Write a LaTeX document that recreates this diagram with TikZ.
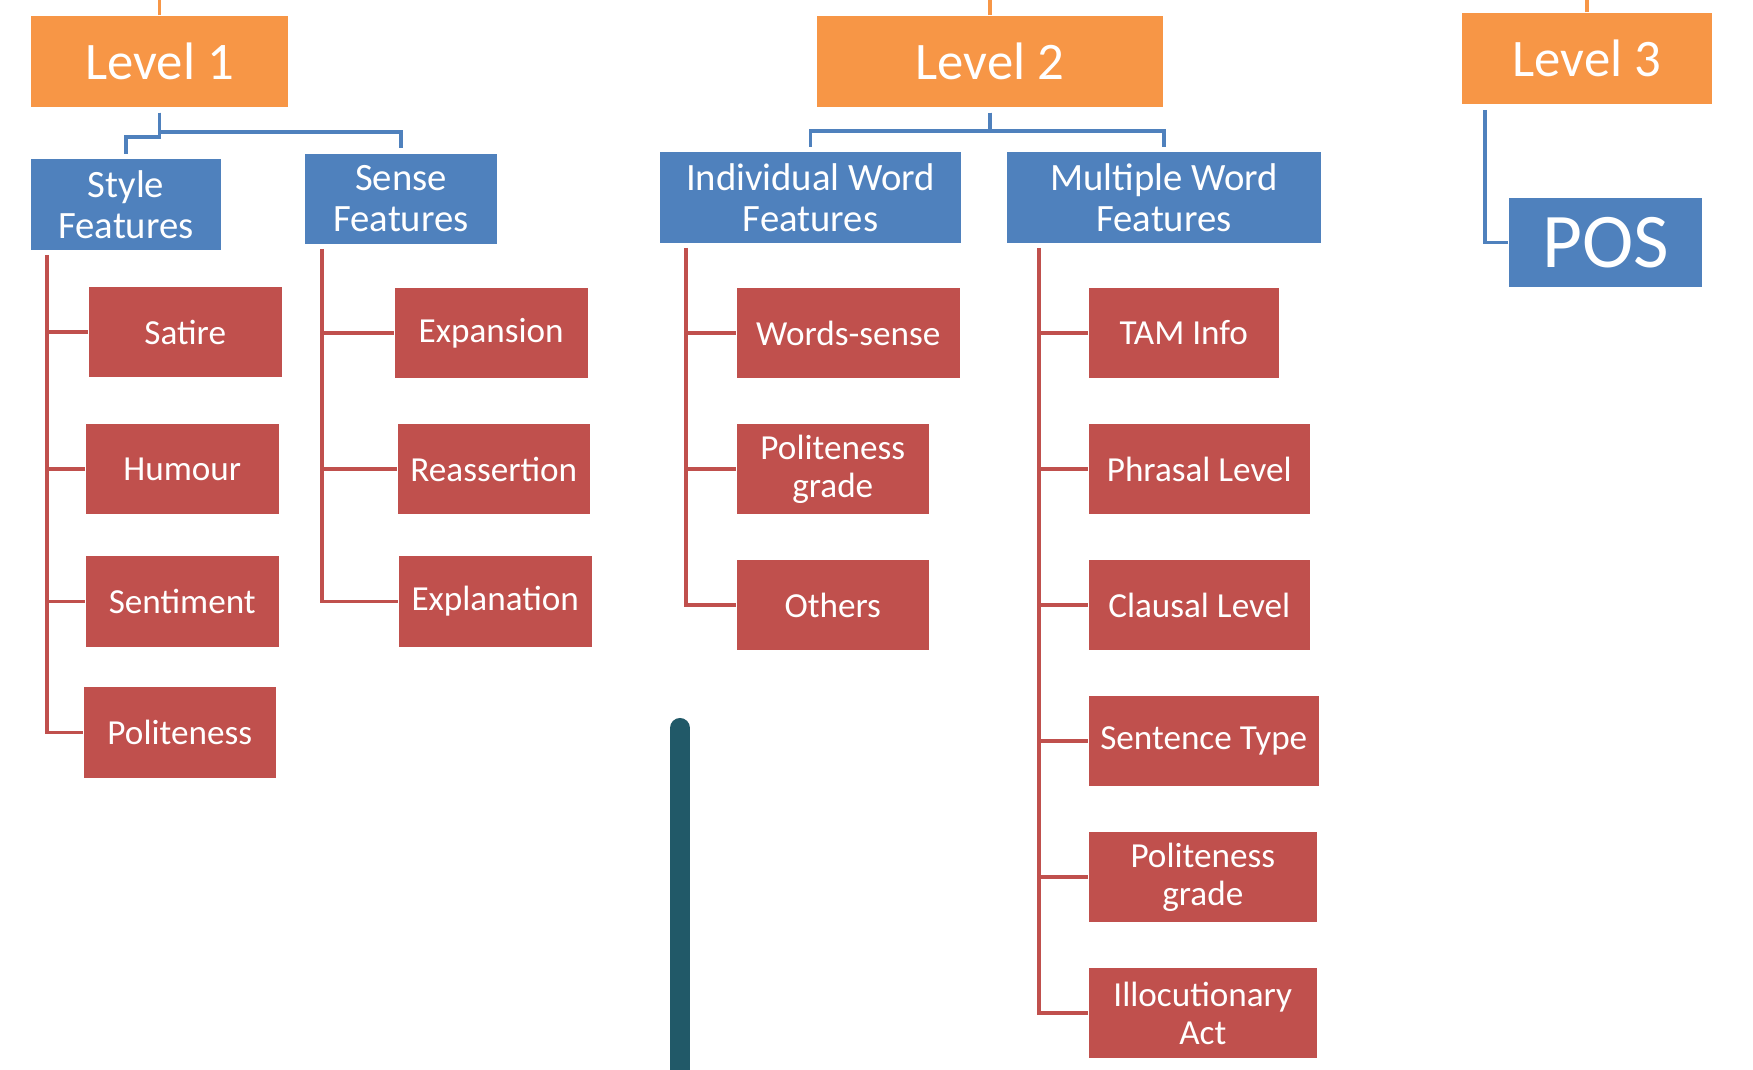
\documentclass[tikz,border=0pt]{standalone}
\usepackage{fontspec}
\setmainfont{Carlito}
\usepackage{tikz}
\usetikzlibrary{positioning,calc}

\definecolor{lvlorange}{HTML}{F79646}
\definecolor{grpblue}{HTML}{4F81BD}
\definecolor{leafred}{HTML}{C0504D}
\definecolor{barteal}{HTML}{215968}

\begin{document}
\begin{tikzpicture}[
    x=0.01cm, y=-0.01cm,
    level/.style={rectangle, fill=lvlorange, text=white, inner sep=0pt, minimum height=0.91cm, font=\fontsize{15}{18}\selectfont, align=center},
    group/.style={rectangle, fill=grpblue, text=white, inner sep=0pt, minimum height=0.90cm, font=\fontsize{11}{11.7}\selectfont, align=center},
    leaf/.style={rectangle, fill=leafred, text=white, inner sep=0pt, minimum height=0.90cm, font=\fontsize{10}{10.8}\selectfont, align=center, anchor=west},
    topline/.style={draw=lvlorange, line width=1.1pt},
    blueline/.style={draw=grpblue, line width=1.1pt, shorten >=1.4pt, shorten <=1.4pt},
    redline/.style={draw=leafred, line width=1.1pt},
]
\useasboundingbox (0,0) rectangle (1753,1070);

% Levels
\node[level, minimum width=2.57cm] (lev1) at (159.5,61.5) {Level 1};
\node[level, minimum width=3.46cm] (lev2) at (990,61.5) {Level 2};
\node[level, minimum width=2.50cm] (lev3) at (1587,58.5) {Level 3};

% Feature groups
\node[group, minimum width=1.90cm] (style) at (126,204.5) {Style\\Features};
\node[group, minimum width=1.92cm] (sense) at (401,199) {Sense\\Features};
\node[group, minimum width=3.01cm] (indiv) at (810.5,197.5) {Individual Word\\Features};
\node[group, minimum width=3.14cm] (multi) at (1164,197.5) {Multiple Word\\Features};
\node[group, minimum width=1.93cm, minimum height=0.89cm, font=\fontsize{22}{24}\selectfont] (pos) at (1605.5,242.5) {POS};

% Style features
\node[leaf, minimum width=1.93cm] (satire) at (88,332) {Satire};
\node[leaf, minimum width=1.93cm] (humour) at (85,469) {Humour};
\node[leaf, minimum width=1.93cm] (sentiment) at (85,601.5) {Sentiment};
\node[leaf, minimum width=1.92cm] (polite) at (83,732.5) {Politeness};

% Sense features
\node[leaf, minimum width=1.93cm] (expansion) at (394,333) {Expansion};
\node[leaf, minimum width=1.92cm] (reassert) at (397,469) {Reassertion};
\node[leaf, minimum width=1.93cm] (explain) at (398,601.5) {Explanation};

% Individual word features
\node[leaf, minimum width=2.23cm] (wsense) at (736,333) {Words-sense};
\node[leaf, minimum width=1.92cm] (igrade) at (736,469) {Politeness\\grade};
\node[leaf, minimum width=1.92cm] (others) at (736,605) {Others};

% Multiple word features
\node[leaf, minimum width=1.90cm] (tam) at (1088,333) {TAM Info};
\node[leaf, minimum width=2.21cm] (phrasal) at (1088,469) {Phrasal Level};
\node[leaf, minimum width=2.21cm] (clausal) at (1088,605) {Clausal Level};
\node[leaf, minimum width=2.30cm] (senttype) at (1088,741) {Sentence Type};
\node[leaf, minimum width=2.28cm] (mgrade) at (1088,877) {Politeness\\grade};
\node[leaf, minimum width=2.28cm] (illoc) at (1088,1013) {Illocutionary\\Act};

% Lines from the top edge
\draw[topline] (lev1.north) -- ++(0,-20);
\draw[topline] (lev2.north) -- ++(0,-20);
\draw[topline] (lev3.north) -- ++(0,-20);

% Level to group
\draw[blueline] (lev1.south) -- ++(0,29) -| (style.north);
\draw[blueline] (lev1.south) -- ++(0,24) -| (sense.north);
\draw[blueline] (lev2.south) -- ++(0,23) -| (indiv.north);
\draw[blueline] (lev2.south) -- ++(0,23) -| (multi.north);
\coordinate (p3) at (1485,110);
\draw[grpblue, line width=1.1pt] (p3) |- (pos.west);

% Group trunks
\coordinate (t1) at (47,255);
\coordinate (t2) at (322,249);
\coordinate (t3) at (686,248);
\coordinate (t4) at (1039,248);

\draw[redline] (t1) |- (polite.west);
\draw[redline] (t1 |- satire.west) -- (satire.west);
\draw[redline] (t1 |- humour.west) -- (humour.west);
\draw[redline] (t1 |- sentiment.west) -- (sentiment.west);

\draw[redline] (t2) |- (explain.west);
\draw[redline] (t2 |- expansion.west) -- (expansion.west);
\draw[redline] (t2 |- reassert.west) -- (reassert.west);

\draw[redline] (t3) |- (others.west);
\draw[redline] (t3 |- wsense.west) -- (wsense.west);
\draw[redline] (t3 |- igrade.west) -- (igrade.west);

\draw[redline] (t4) |- (illoc.west);
\draw[redline] (t4 |- tam.west) -- (tam.west);
\draw[redline] (t4 |- phrasal.west) -- (phrasal.west);
\draw[redline] (t4 |- clausal.west) -- (clausal.west);
\draw[redline] (t4 |- senttype.west) -- (senttype.west);
\draw[redline] (t4 |- mgrade.west) -- (mgrade.west);

% Bar at the bottom
\coordinate (bartop) at (680,728);
\coordinate (barend) at (680,1090);
\draw[barteal, line width=5.7pt, line cap=round] (bartop) -- (barend);

\end{tikzpicture}
\end{document}
